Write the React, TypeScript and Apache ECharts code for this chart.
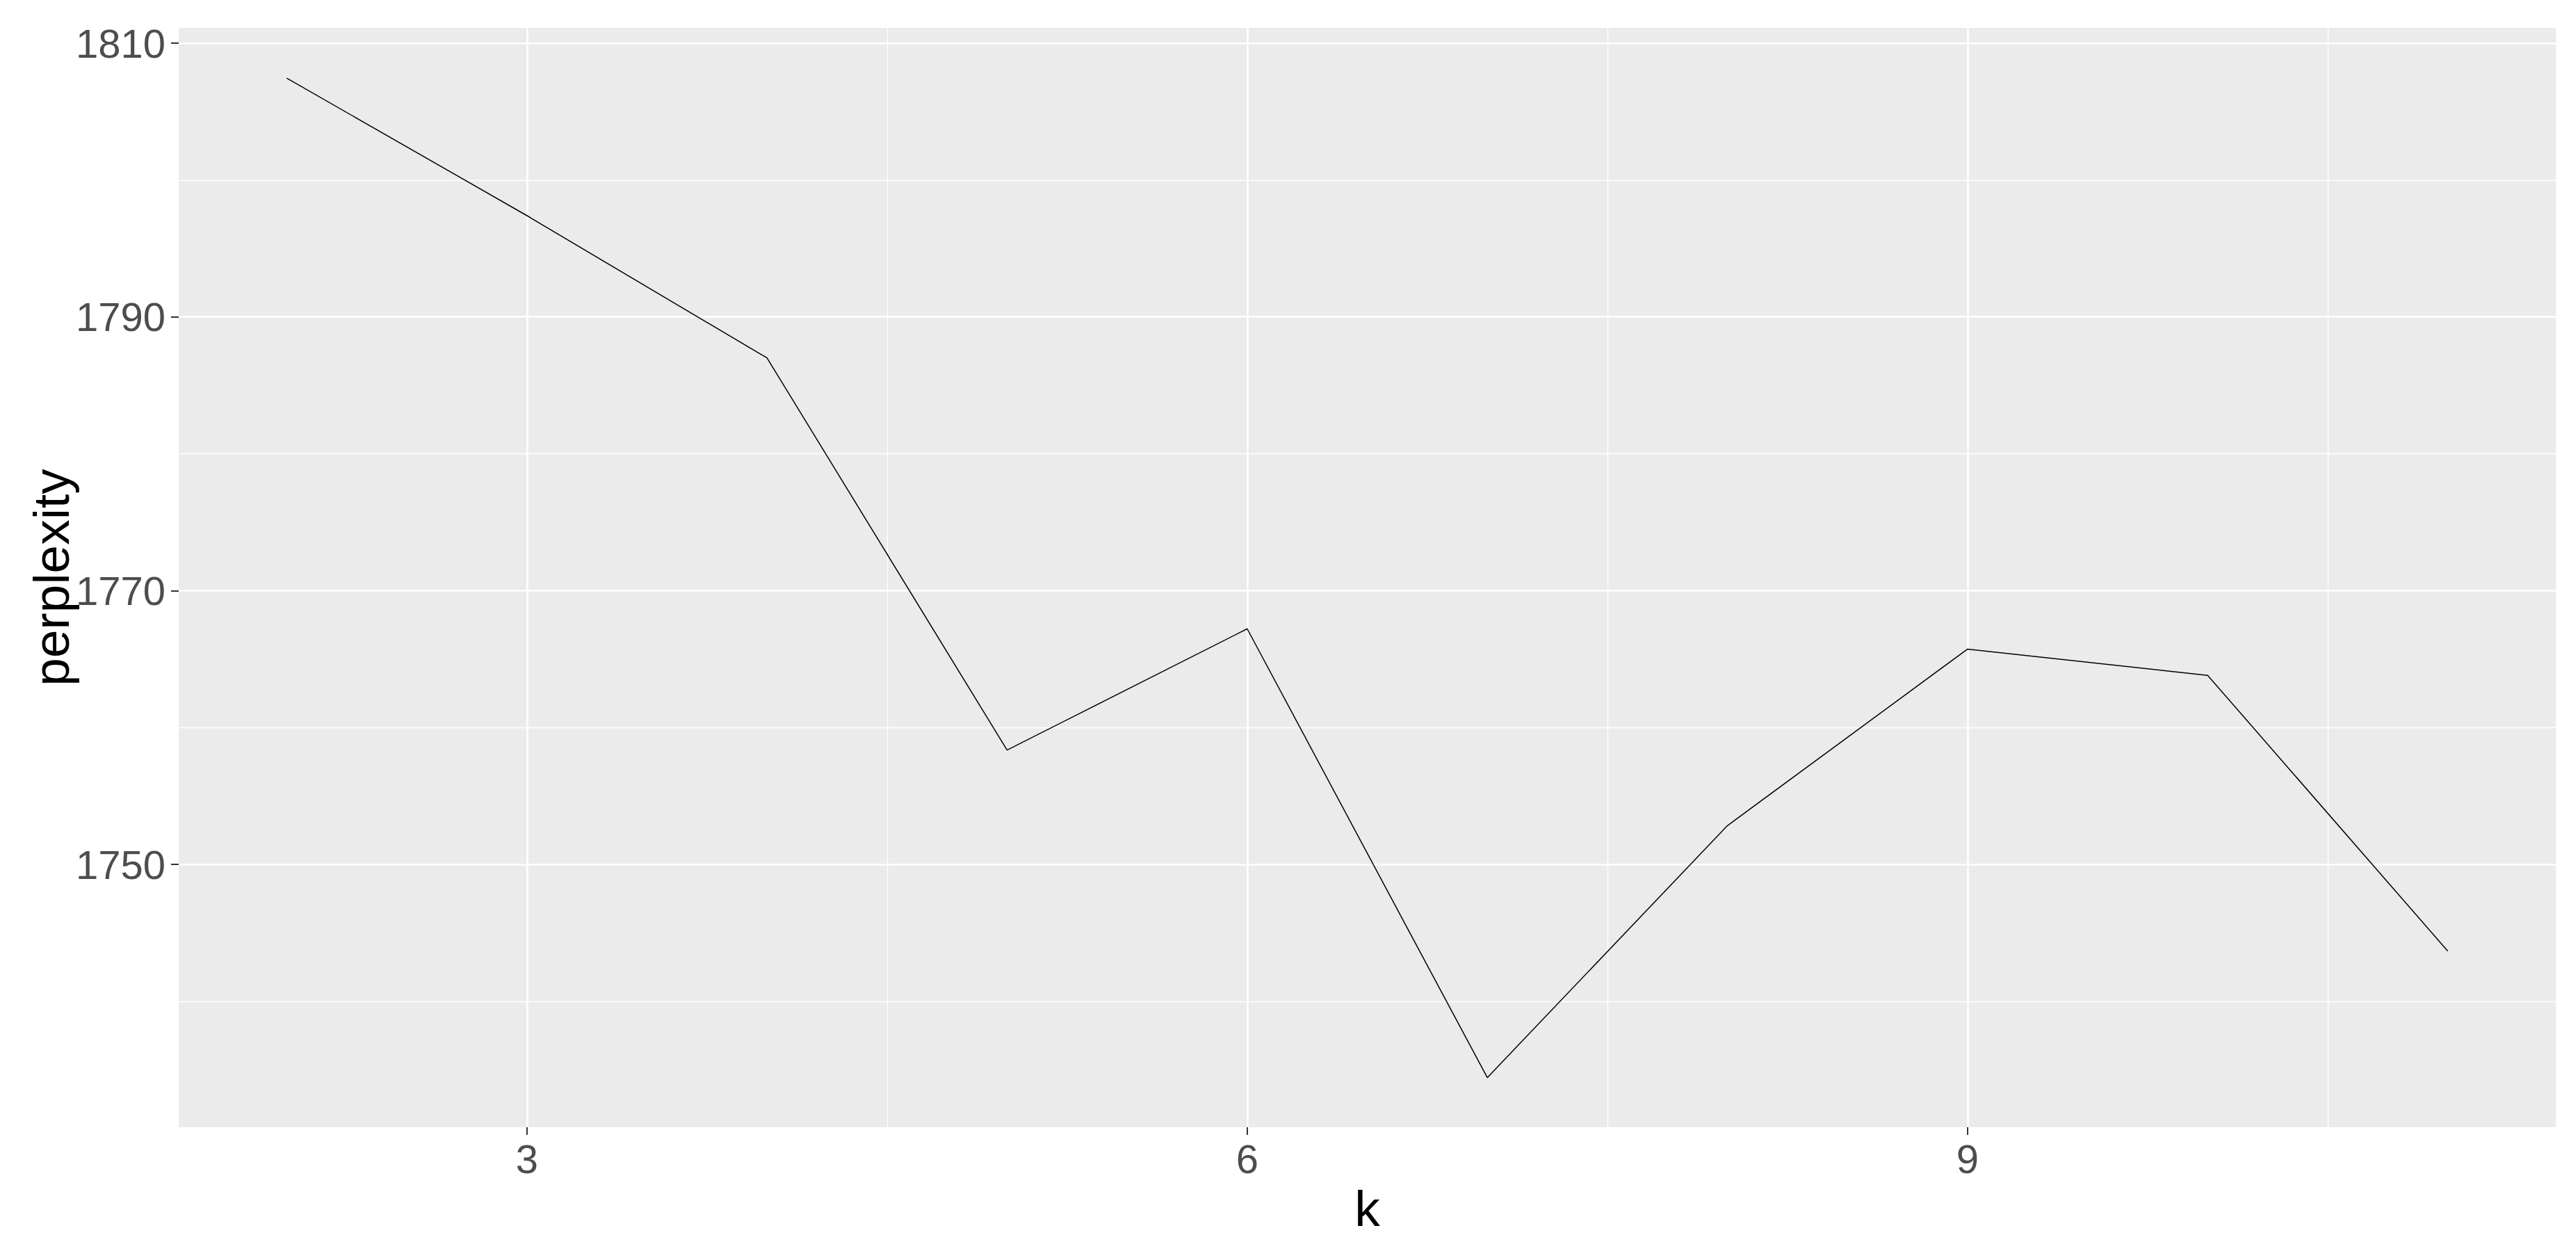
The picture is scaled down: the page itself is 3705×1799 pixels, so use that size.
import React, { useEffect, useRef } from "react";
import * as echarts from "echarts";

const kValues = [2, 3, 4, 5, 6, 7, 8, 9, 10, 11];
const perplexity = [1807.44, 1797.4, 1787.0, 1758.35, 1767.21, 1734.42, 1752.83, 1765.73, 1763.81, 1743.66];
const xTicks = [3, 6, 9];
const xMinor = [4.5, 7.5, 10.5];
const yTicks = [1750, 1770, 1790, 1810];
const yMinor = [1740, 1760, 1780, 1800];
const xRange = [1.55, 11.45];
const yRange = [1730.796, 1811.118];

const FONT = "'Liberation Sans', Arial, sans-serif";

export default function App() {
  const ref = useRef<HTMLDivElement>(null);
  useEffect(() => {
    if (!ref.current) return;
    const chart = echarts.init(ref.current, null, { renderer: "svg" });
    const gridLine = (vals: number[], key: "xAxis" | "yAxis", width: number) =>
      vals.map((v) => ({ [key]: v, lineStyle: { color: "#ffffff", width, type: "solid" } }));
    chart.setOption({
      animation: false,
      backgroundColor: "#ffffff",
      grid: {
        left: 257,
        top: 40,
        right: 29,
        bottom: 178,
        show: true,
        backgroundColor: "#EBEBEB",
        borderWidth: 0,
      },
      xAxis: {
        type: "value",
        min: xRange[0],
        max: xRange[1],
        name: "k",
        nameLocation: "middle",
        nameGap: 80,
        nameMoveOverlap: false,
        nameTextStyle: { fontSize: 73, color: "#000000", fontFamily: FONT },
        axisLine: { show: false },
        splitLine: { show: false },
        axisTick: {
          show: true,
          customValues: xTicks,
          length: 11,
          lineStyle: { color: "#333333", width: 2 },
        },
        axisLabel: {
          customValues: xTicks,
          margin: 16,
          fontSize: 58,
          color: "#4D4D4D",
          fontFamily: FONT,
          formatter: (v: number) => String(v),
        },
      },
      yAxis: {
        type: "value",
        min: yRange[0],
        max: yRange[1],
        name: "perplexity",
        nameLocation: "middle",
        nameGap: 147,
        nameMoveOverlap: false,
        nameRotate: 90,
        nameTextStyle: { fontSize: 73, color: "#000000", fontFamily: FONT },
        axisLine: { show: false },
        splitLine: { show: false },
        axisTick: {
          show: true,
          customValues: yTicks,
          length: 11,
          lineStyle: { color: "#333333", width: 2 },
        },
        axisLabel: {
          customValues: yTicks,
          margin: 19,
          fontSize: 58,
          color: "#4D4D4D",
          fontFamily: FONT,
          formatter: (v: number) => String(v),
        },
      },
      series: [
        {
          type: "line",
          data: [],
          z: 1,
          silent: true,
          markLine: {
            silent: true,
            symbol: ["none", "none"],
            label: { show: false },
            animation: false,
            data: [
              ...gridLine(yMinor, "yAxis", 1.3),
              ...gridLine(xMinor, "xAxis", 1.3),
              ...gridLine(yTicks, "yAxis", 2.6),
              ...gridLine(xTicks, "xAxis", 2.6),
            ],
          },
        },
        {
          type: "line",
          z: 5,
          data: kValues.map((k, i) => [k, perplexity[i]]),
          showSymbol: false,
          symbol: "none",
          lineStyle: { color: "#000000", width: 1.5 },
        },
      ],
    });
    return () => chart.dispose();
  }, []);
  return (
    <div
      ref={ref}
      style={{ position: "fixed", left: 0, top: 0, width: 3705, height: 1799, background: "#ffffff" }}
    />
  );
}
